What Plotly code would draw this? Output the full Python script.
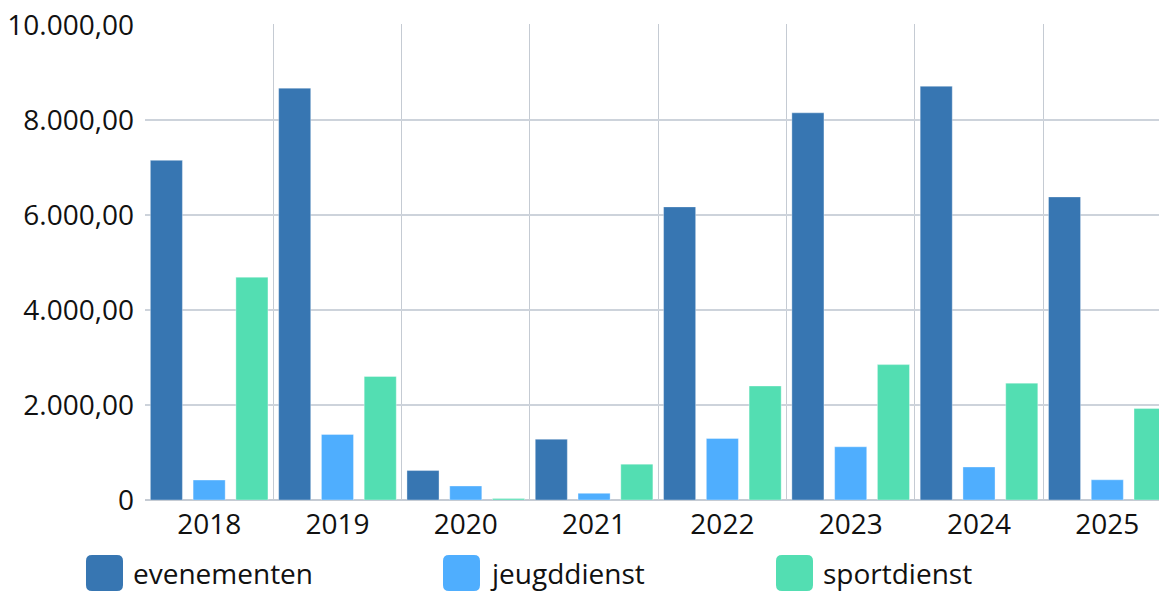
import plotly.graph_objects as go

years = ["2018", "2019", "2020", "2021", "2022", "2023", "2024", "2025"]
series_names = ["evenementen", "jeugddienst", "sportdienst"]
evenementen = [7150, 8670, 620, 1280, 6170, 8150, 8710, 6380]
jeugddienst = [420, 1380, 295, 140, 1295, 1120, 695, 425]
sportdienst = [4690, 2600, 30, 755, 2400, 2850, 2460, 1925]
colors = ["#3776B2", "#4FAEFE", "#53DEB2"]
ytick_vals = [0, 2000, 4000, 6000, 8000, 10000]
ytick_text = ["0", "2.000,00", "4.000,00", "6.000,00", "8.000,00", "10.000,00"]

W, H = 1159, 592
L, R, T, B = 145, 0, 24, 92
PW, PH = W - L - R, H - T - B

FONT = "Open Sans"

fig = go.Figure()
for name, vals, col in zip(series_names, [evenementen, jeugddienst, sportdienst], colors):
    fig.add_trace(go.Bar(
        x=years, y=vals, name=name,
        marker=dict(color=col, line=dict(width=1, color="rgba(255,255,255,0.35)")),
        showlegend=False,
    ))

# manual legend (large rounded squares)
def pxx(px):
    return (px - L) / PW

def pyy(py):
    return (H - B - py) / PH

def rrect(x0, y0, x1, y1, r):
    pts = [
        ("M", [(x0 + r, y0)]),
        ("L", [(x1 - r, y0)]),
        ("Q", [(x1, y0), (x1, y0 + r)]),
        ("L", [(x1, y1 - r)]),
        ("Q", [(x1, y1), (x1 - r, y1)]),
        ("L", [(x0 + r, y1)]),
        ("Q", [(x0, y1), (x0, y1 - r)]),
        ("L", [(x0, y0 + r)]),
        ("Q", [(x0, y0), (x0 + r, y0)]),
    ]
    s = ""
    for cmd, ps in pts:
        s += cmd + " ".join(f"{pxx(a):.5f},{pyy(b):.5f}" for a, b in ps)
    return s + "Z"

legend_x = [86, 443, 776]
shapes = []
annotations = []
for lx, name, col in zip(legend_x, series_names, colors):
    shapes.append(dict(type="path", xref="paper", yref="paper",
                       path=rrect(lx, 555, lx + 37, 591, 6),
                       fillcolor=col, line=dict(width=0), layer="above"))
    annotations.append(dict(xref="paper", yref="paper", x=pxx(lx + 45), y=pyy(573),
                            xanchor="left", yanchor="middle", text=name, showarrow=False,
                            font=dict(family=FONT, size=28, color="#111111")))

fig.update_layout(
    width=W, height=H,
    margin=dict(l=L, r=R, t=T, b=B, pad=0),
    paper_bgcolor="white", plot_bgcolor="white",
    barmode="group", bargap=0.0, bargroupgap=0.25,
    font=dict(family=FONT, size=28, color="#111111"),
    shapes=shapes, annotations=annotations,
    showlegend=False,
)
fig.update_xaxes(
    type="category", range=[-0.5, 7.403],
    tickson="boundaries", showgrid=True, gridcolor="#C5CBD3", gridwidth=1,
    ticks="", showline=False, zeroline=False,
    tickfont=dict(family=FONT, size=28, color="#111111"),
    ticklabelstandoff=5,
)
fig.update_yaxes(
    range=[0, 10020], tickvals=ytick_vals, ticktext=ytick_text,
    showgrid=True, gridcolor="#CDD3DB", gridwidth=1.5,
    zeroline=True, zerolinecolor="#C5CBD3", zerolinewidth=1.5,
    ticks="", showline=False,
    tickfont=dict(family=FONT, size=28, color="#111111"),
    ticklabelstandoff=10,
)

fig.write_html("out.html",
               config={"displayModeBar": False},
               post_script="document.body.style.margin='0px';document.body.style.overflow='hidden';")
